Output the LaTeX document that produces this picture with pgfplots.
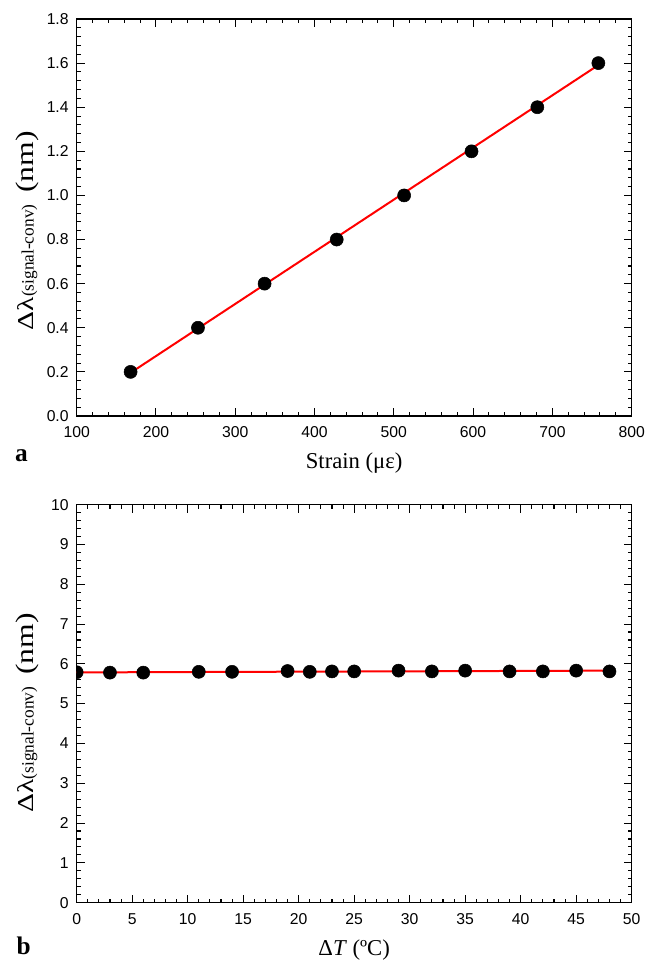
\documentclass[border=0pt]{standalone}
\usepackage{fontspec}
\setmainfont{Liberation Serif}
\newfontfamily\tickfont{Liberation Sans}
\usepackage{graphicx}
\usepackage{pgfplots}
\pgfplotsset{compat=1.18}

% shared look of both panels (1 px of the reference = 0.75 pt)
\pgfplotsset{
  panel/.style={
    scale only axis,
    width=416.25pt,
    axis line style={line width=1pt},
    tick align=inside,
    major tick length=6pt, minor tick length=3pt,
    every tick/.style={black, line width=0.8pt},
    minor x tick num=4, minor y tick num=4,
    ticklabel style={font=\tickfont\fontsize{11.8}{13}\selectfont},
    xticklabel style={yshift=-4.5pt},
    yticklabel style={xshift=-2.5pt},
    /pgf/number format/assume math mode=true,
    label style={font=\fontsize{17}{18}\selectfont},
    xlabel style={at={(axis description cs:0.5,0)}, anchor=base, yshift=-39.5pt},
    clip marker paths=true,
  },
  dots/.style={only marks, mark=*, mark size=4.9pt, mark options={fill=black, draw=black}},
  fit/.style={red, line width=1.5pt, no marks},
}
\newcommand{\dlabel}{%
  \scalebox{1.3}[1]{\fontsize{17}{17}\selectfont Δλ}%
  {\fontsize{13}{13}\selectfont(signal-conv)}\hspace{9pt}%
  \scalebox{1.25}[1]{\fontsize{19}{19}\selectfont(nm)}}

\begin{document}
\begin{tikzpicture}
\useasboundingbox (0,0) rectangle (491.25pt,720pt);

% ── panel a: strain response ──────────────────────────────────────────
\begin{axis}[
  panel,
  at={(57.5pt,408pt)}, anchor=south west,
  height=297.75pt,
  xmin=100, xmax=800, ymin=0, ymax=1.8,
  xtick={100,200,...,800},
  ytick={0,0.2,...,1.8},
  yticklabel style={/pgf/number format/.cd, fixed, fixed zerofill, precision=1},
  xlabel={Strain (με)},
  ylabel={\dlabel},
  ylabel style={at={(axis description cs:-0.0775,0.467)}, anchor=base},
]
\addplot[fit] coordinates {(168,0.196) (758,1.591)};
\addplot[dots] coordinates {
  (168,0.2) (253,0.4) (337,0.6) (428,0.8)
  (513,1.0) (598,1.2) (681,1.4) (758,1.6)
};
\end{axis}
\node[font=\bfseries\fontsize{19}{19}\selectfont, anchor=base] at (16pt,373.5pt) {a};

% ── panel b: temperature response ─────────────────────────────────────
\begin{axis}[
  panel,
  at={(57.5pt,43pt)}, anchor=south west,
  height=298.5pt,
  xmin=0, xmax=50, ymin=0, ymax=10,
  xtick={0,5,...,50},
  ytick={0,1,...,10},
  xlabel={Δ\textit{T} (ºC)},
  ylabel={\dlabel},
  ylabel style={at={(axis description cs:-0.0775,0.477)}, anchor=base},
]
\addplot[fit] coordinates {(0,5.785) (48,5.83)};
\addplot[dots] table {
x  y
0  5.79
3  5.78
6  5.78
11 5.80
14 5.80
19 5.82
21 5.80
23 5.81
25 5.81
29 5.83
32 5.81
35 5.83
39 5.81
42 5.81
45 5.83
48 5.81
};
\end{axis}
\node[font=\bfseries\fontsize{19}{19}\selectfont, anchor=base] at (17.8pt,3.75pt) {b};
\end{tikzpicture}
\end{document}
